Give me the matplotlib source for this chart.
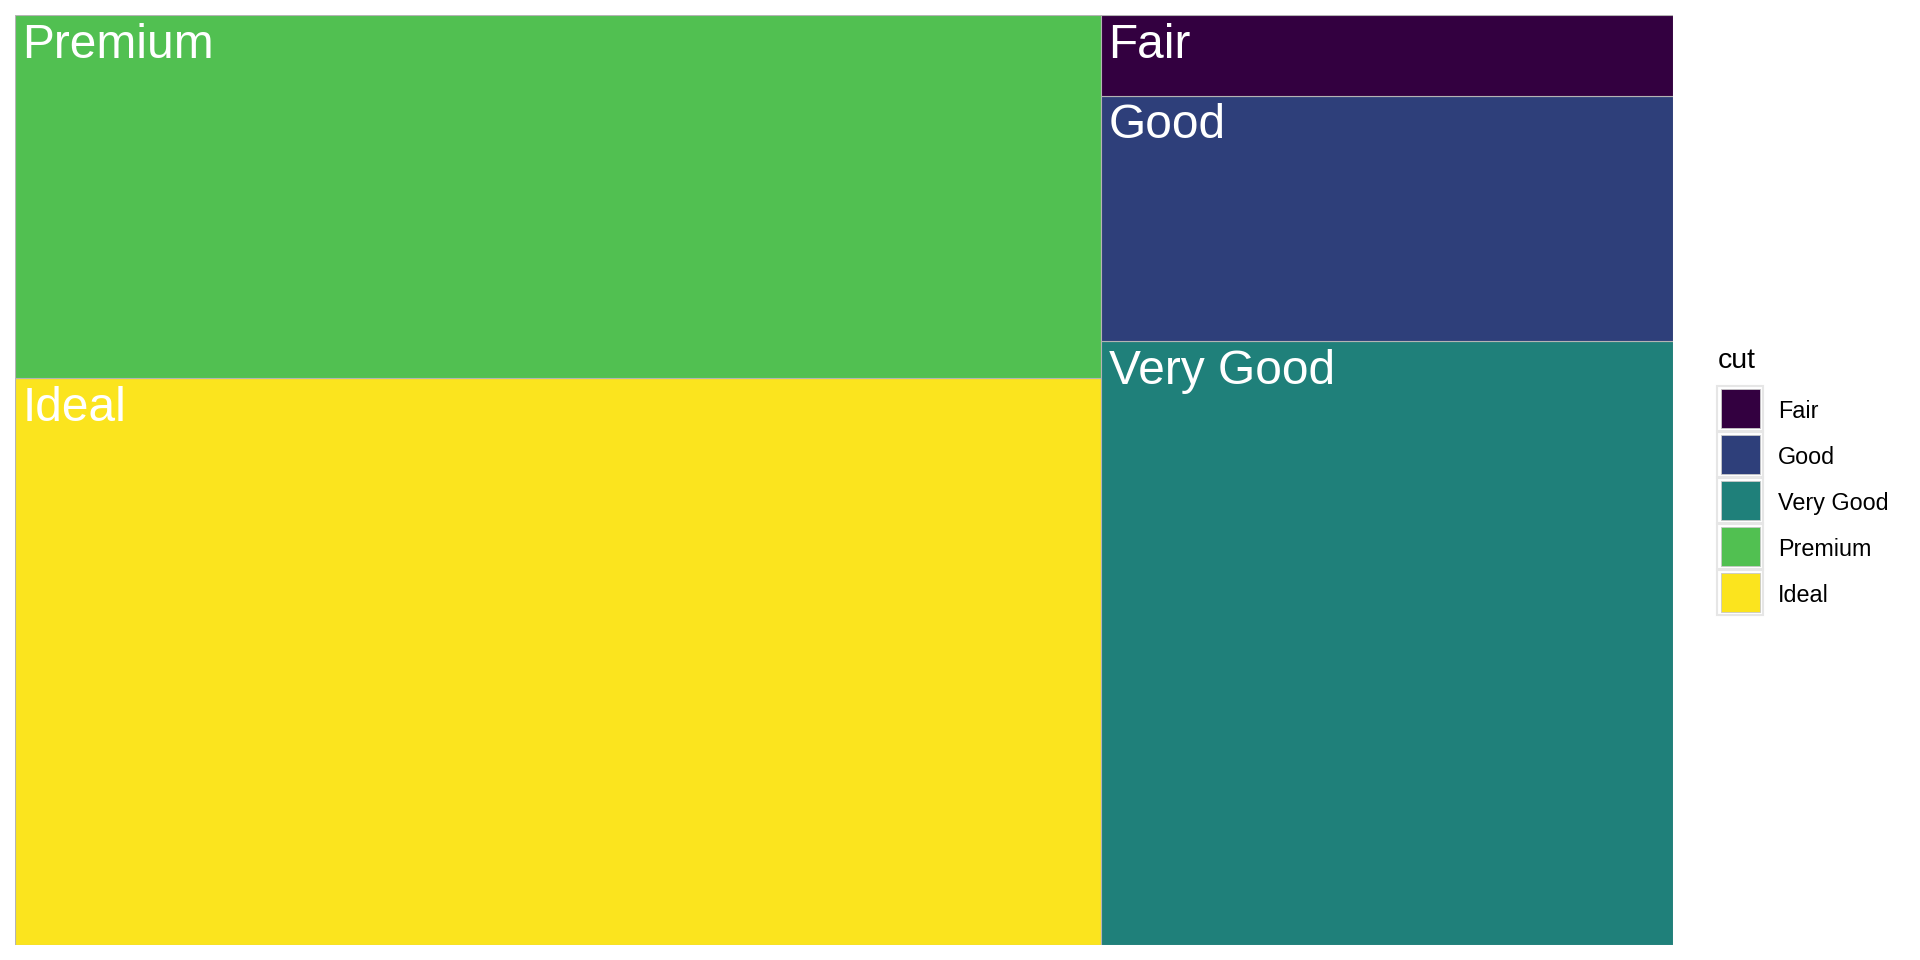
#! /usr/bin/env python3
# -*- coding: utf-8 -*-
import matplotlib
matplotlib.use('Agg')
import matplotlib.pyplot as plt
from matplotlib.patches import Rectangle

plt.rcParams['font.family'] = ['Liberation Sans', 'DejaVu Sans']

# diamonds: number of stones per cut
cuts = ['Fair', 'Good', 'Very Good', 'Premium', 'Ideal']
counts = [1610, 4906, 12082, 13791, 21551]
colors = ['#330040', '#2E3F7A', '#1F807A', '#51C051', '#FBE41E']

W, H = 1920., 960.


def worst(row, side):
    # worst aspect ratio of a row laid along a side of length `side`
    t = sum(row) / side
    return max(max(t / (a / t), (a / t) / t) for a in row)


def squarify(values, x, y, w, h):
    # squarified layout in the unit square, rows start bottom-left
    total = float(sum(values))
    areas = [v / total * w * h for v in values]
    rects = []
    i = 0
    while i < len(areas):
        side = h if w >= h else w
        row = [areas[i]]
        j = i + 1
        while j < len(areas) and worst(row + [areas[j]], side) <= worst(row, side):
            row.append(areas[j])
            j += 1
        t = sum(row) / side
        pos = 0
        for a in row:
            ln = a / t
            if w >= h:
                rects.append((x, y + pos, t, ln))
            else:
                rects.append((x + pos, y, ln, t))
            pos += ln
        if w >= h:
            x += t
            w -= t
        else:
            y += t
            h -= t
        i = j
    return rects


def px_rect(fig, x0, y0, w, h, **kw):
    # rectangle given in pixels from the top-left corner of the figure
    r = Rectangle((x0 / W, 1 - (y0 + h) / H), w / W, h / H,
                  transform=fig.transFigure, **kw)
    fig.add_artist(r)


def plot_treemap():
    fig = plt.figure(figsize=(19.2, 9.6), dpi=100)
    ax = fig.add_axes([15 / W, 15 / H, 1658 / W, 930 / H])
    ax.set_xlim(0, 1)
    ax.set_ylim(0, 1)
    ax.axis('off')

    order = sorted(range(len(cuts)), key=lambda k: -counts[k])
    rects = squarify([counts[k] for k in order], 0, 0, 1, 1)
    for k, (rx, ry, rw, rh) in zip(order, rects):
        ax.add_patch(Rectangle((rx, ry), rw, rh, facecolor=colors[k],
                               edgecolor='#B4B4B4', lw=0.8))
        ax.annotate(cuts[k], xy=(rx, ry + rh), xytext=(5.2, -5.6),
                    textcoords='offset points', ha='left', va='top',
                    color='white', fontsize=34.5)

    # legend, drawn by hand
    fig.text(1718 / W, 1 - 368 / H, 'cut', fontsize=20.5, ha='left',
             va='baseline')
    for i, (lab, c) in enumerate(zip(cuts, colors)):
        top = 386 + i * 46
        px_rect(fig, 1717, top, 46, 45, facecolor='white',
                edgecolor='#E6E6E6', lw=1.5)
        px_rect(fig, 1721, top + 3, 39, 39, facecolor=c,
                edgecolor='#C8C8C8', lw=0.6)
        fig.text(1778 / W, 1 - (top + 23) / H, lab, fontsize=16.8,
                 ha='left', va='center_baseline')

    fig.savefig('out.png', dpi=100, facecolor='white')


def main():
    plot_treemap()


if __name__ == '__main__':
    main()
